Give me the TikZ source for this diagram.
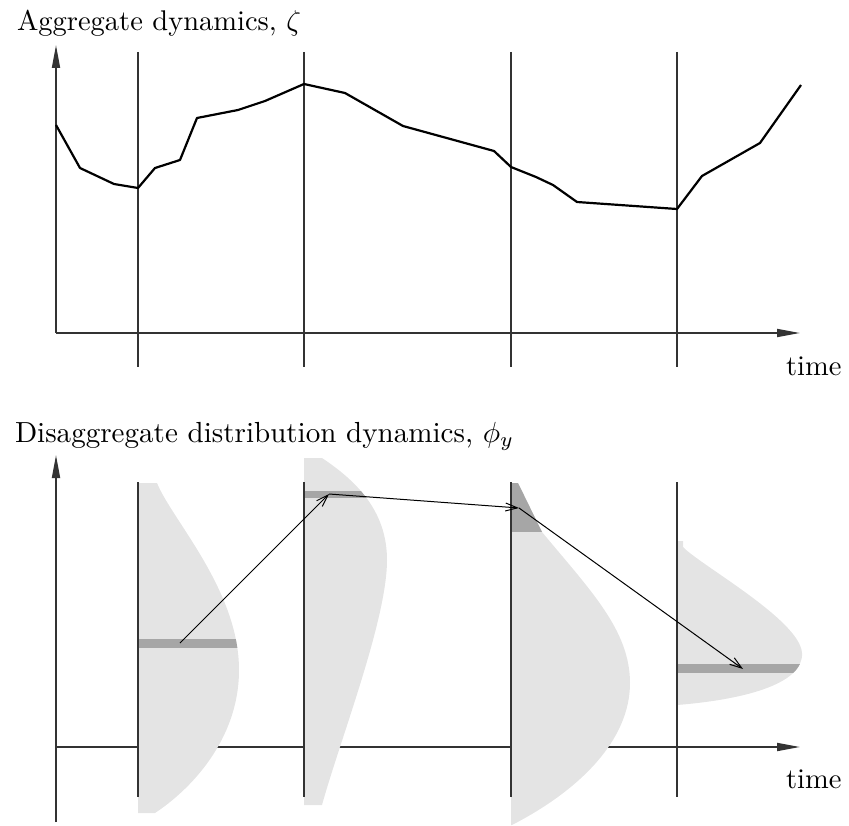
\documentclass[tikz,border=0pt]{standalone}
\usetikzlibrary{arrows.meta}
\definecolor{distlight}{HTML}{E4E4E4}
\definecolor{distdark}{HTML}{A6A6A6}
\definecolor{axisgray}{HTML}{333333}
\begin{document}
\begin{tikzpicture}[x=1pt,y=-1pt,
  axisline/.style={draw=axisgray,line width=1.8pt,-{Triangle[length=23pt,width=8pt]}},
  timeline/.style={draw=axisgray,line width=1.1pt},
  curveline/.style={draw=black,line width=2.2pt,line join=round},
  moveline/.style={draw=black,line width=1pt,-{Straight Barb[length=12pt,width=8pt]}},
  label/.style={scale=2.85,anchor=base west,inner sep=0pt,outer sep=0pt},
  distfill/.style={fill=distlight},
  bandfill/.style={fill=distdark}]
\useasboundingbox (0,0) rectangle (849,826);

% ---------- top panel ----------
\node[label] (ttop) at (17,31) {Aggregate dynamics, $\zeta$};
\coordinate (oT) at (56,333);
\coordinate (yT) at (56,45);
\coordinate (xT) at (800,333);
\draw[axisline] (oT) -- (yT);
\draw[axisline] (oT) -- (xT);
\foreach \xx/\nm in {138/a,304/b,511/c,677/d}{
  \coordinate (t\nm1) at (\xx,52);
  \coordinate (t\nm2) at (\xx,367);
  \draw[timeline] (t\nm1) -- (t\nm2);
}
\node[label] (timeT) at (786,376) {time};
\draw[curveline] (56,125) -- (80,168) -- (114,184) -- (138,188) -- (155,168)
  -- (180,160) -- (197,118) -- (238,110) -- (265,101) -- (304,84) -- (345,93)
  -- (403,126) -- (494,151) -- (511,167) -- (536,177) -- (553,185) -- (577,202)
  -- (677,209) -- (702,176) -- (760,143) -- (801,85);

% ---------- bottom panel ----------
\node[label,scale=1.02] (tbot) at (15,442) {Disaggregate distribution dynamics, $\phi_y$};
\coordinate (oB) at (56,747);
\coordinate (yB) at (56,455);
\coordinate (yB0) at (56,822);
\coordinate (xB) at (800,747);
\draw[axisline] (yB0) -- (yB);
\draw[axisline] (oB) -- (xB);
\node[label] (timeB) at (786,788) {time};

% distribution 1
\def\distA{(138,483) -- (157,483) .. controls (172,520) and (239,590) .. (239,670)
  .. controls (239,740) and (190,790) .. (155,813) -- (138,813) -- cycle}
\fill[distfill] \distA;
\begin{scope}\clip \distA; \fill[bandfill] (130,639) rectangle (260,648); \end{scope}
% distribution 2
\def\distB{(304,458) -- (322,458) .. controls (355,480) and (387,510) .. (387,560)
  .. controls (387,620) and (340,740) .. (322,805) -- (304,805) -- cycle}
\fill[distfill] \distB;
\begin{scope}\clip \distB; \fill[bandfill] (300,491) rectangle (400,498); \end{scope}
% distribution 3
\def\distC{(511,483) -- (518,483) -- (542,532) .. controls (590,590) and (630,630) .. (630,683)
  .. controls (630,740) and (580,790) .. (512,825) -- (511,825) -- cycle}
\fill[distfill] \distC;
\begin{scope}\clip \distC; \fill[bandfill] (505,480) rectangle (660,532); \end{scope}
% distribution 4
\def\distD{(677,541) -- (683,541) -- (683,547) .. controls (700,565) and (800,620) .. (802,653)
  .. controls (804,685) and (740,700) .. (677,705) -- cycle}
\fill[distfill] \distD;
\begin{scope}\clip \distD; \fill[bandfill] (670,664) rectangle (820,673); \end{scope}

\foreach \xx/\nm in {138/a,304/b,511/c,677/d}{
  \coordinate (b\nm1) at (\xx,482);
  \coordinate (b\nm2) at (\xx,797);
  \draw[timeline] (b\nm1) -- (b\nm2);
}

% transitions
\coordinate (p1) at (180,643);
\coordinate (p2) at (329,494);
\coordinate (p3) at (519,508);
\coordinate (p4) at (743,669);
\draw[moveline] (p1) -- (p2);
\draw[moveline] (p2) -- (p3);
\draw[moveline] (p3) -- (p4);
\end{tikzpicture}
\end{document}
